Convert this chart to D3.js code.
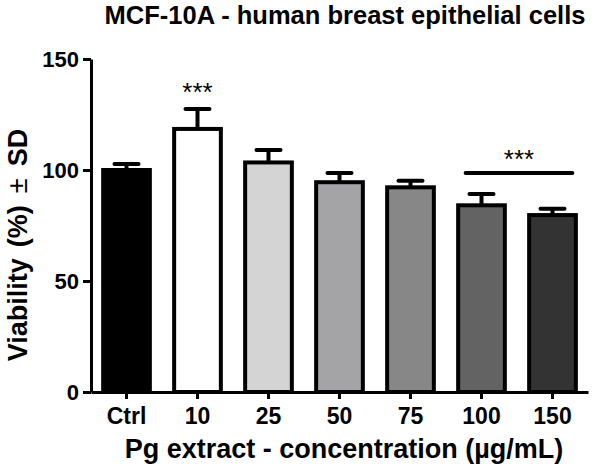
<!DOCTYPE html>
<html><head><meta charset="utf-8">
<script src="https://cdn.jsdelivr.net/npm/d3@7"></script>
<style>body{margin:0;background:#fff}svg{display:block}text{font-family:"Liberation Sans",Arial,sans-serif;font-weight:bold;fill:#000}</style>
</head><body><svg id="c" width="595" height="468"></svg>
<script>
const categories = ["Ctrl","10","25","50","75","100","150"];
const means = [100, 118.5, 103.4, 94.5, 92.2, 84.1, 79.7];
const sds = [2.7, 9, 5.6, 4.2, 3, 5.1, 2.9];
const fills = ["#000000","#ffffff","#d4d4d4","#a4a4a7","#878787","#636363","#333333"];
const yTicks = [0, 50, 100, 150];
const sigSingle = ["10"];
const sigGroup = ["100","150"];
const sigGroupLevel = 98.6;

const svg = d3.select("#c");
const x = d3.scaleBand().domain(categories).range([91, 588]).paddingInner(0.3).paddingOuter(0.15);
const y = d3.scaleLinear().domain([0, 150]).range([392, 59]);

// bars
svg.selectAll("rect.bar").data(categories).enter().append("rect")
  .attr("x", d => x(d)+1.5).attr("width", x.bandwidth()-3)
  .attr("y", (d,i) => y(means[i])).attr("height", (d,i) => y(0)-y(means[i]))
  .attr("fill", (d,i) => fills[i]).attr("stroke", "#000").attr("stroke-width", 4);

// error bars (upper)
categories.forEach((d,i) => {
  const cx = x(d) + x.bandwidth()/2;
  svg.append("line").attr("x1", cx).attr("x2", cx).attr("y1", y(means[i])).attr("y2", y(means[i]+sds[i]))
    .attr("stroke", "#000").attr("stroke-width", 4);
  svg.append("line").attr("x1", cx-12).attr("x2", cx+12).attr("y1", y(means[i]+sds[i])).attr("y2", y(means[i]+sds[i]))
    .attr("stroke", "#000").attr("stroke-width", 4).attr("stroke-linecap", "round");
});

// axes
const yAxis = svg.append("g").attr("transform", "translate(91,0)")
  .call(d3.axisLeft(y).tickValues(yTicks).tickSize(8).tickSizeOuter(0).tickPadding(4));
yAxis.select(".domain").attr("stroke-width", 3);
yAxis.selectAll(".tick line").attr("stroke-width", 3);
yAxis.selectAll(".tick text").style("font-size", "22px").attr("dy", "0.36em");

const xAxis = svg.append("g").attr("transform", "translate(0,392)")
  .call(d3.axisBottom(x).tickSize(7).tickSizeOuter(0).tickPadding(9));
xAxis.select(".domain").attr("stroke-width", 3);
xAxis.selectAll(".tick line").attr("stroke-width", 3);
xAxis.selectAll(".tick text").style("font-size", "23px");

// significance
sigSingle.forEach(c => {
  const i = categories.indexOf(c);
  svg.append("text").attr("x", x(c)+x.bandwidth()/2).attr("y", y(means[i]+sds[i]) - 8)
    .attr("text-anchor", "middle").style("font-size", "26px").style("font-weight", "normal").text("***");
});
const gx1 = x(sigGroup[0]) + 9, gx2 = x(sigGroup[sigGroup.length-1]) + x.bandwidth() - 5;
svg.append("line").attr("x1", gx1).attr("x2", gx2).attr("y1", y(sigGroupLevel)).attr("y2", y(sigGroupLevel))
  .attr("stroke", "#000").attr("stroke-width", 4).attr("stroke-linecap", "round");
svg.append("text").attr("x", (gx1+gx2)/2).attr("y", y(sigGroupLevel) - 5)
  .attr("text-anchor", "middle").style("font-size", "26px").style("font-weight", "normal").text("***");

// titles
svg.append("text").attr("x", 345).attr("y", 23.5).attr("text-anchor", "middle").style("font-size", "25.5px")
  .text("MCF-10A - human breast epithelial cells");
svg.append("text").attr("x", 344).attr("y", 458).attr("text-anchor", "middle").style("font-size", "27px")
  .text("Pg extract - concentration (µg/mL)");
const yt = svg.append("text").attr("transform", "translate(27,245) rotate(-90)").attr("text-anchor", "middle").style("font-size", "27px");
yt.append("tspan").text("Viability");
yt.append("tspan").attr("dx", 11).text("(%)");
yt.append("tspan").attr("dx", 12).style("font-weight", "normal").text("±");
yt.append("tspan").attr("dx", 12).text("SD");
</script></body></html>
